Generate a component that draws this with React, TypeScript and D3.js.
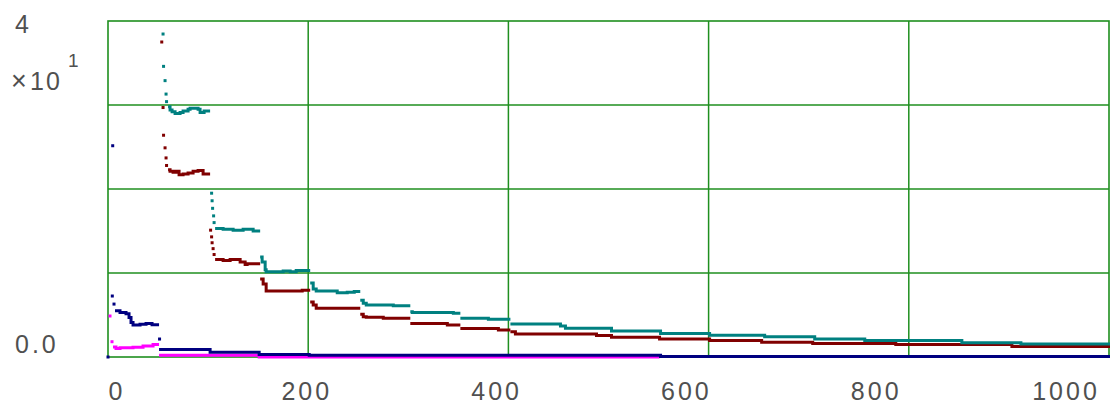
import React from "react";
import * as d3 from "d3";

// ---------- data ----------
const xTicks = [0, 200, 400, 600, 800, 1000];
const xGrid = [200, 400, 600, 800];
const yGrid = [10, 20, 30];

// isolated points [x, value]
const navyDots = [[0, 0], [4.7, 25.15], [4.3, 7.26], [6, 6.3], [51.5, 2.14]];
const magentaDots = [[2, 4.88], [4, 1.82]];
const tealDots = [
  [55, 38.45], [55.5, 34.6], [57, 32.9], [58, 31.3], [58.5, 30.4],
  [103.5, 19.5], [104, 18.6], [104.5, 17.7], [105.5, 16.8], [106, 16.0],
];
const redDots = [
  [53.7, 37.5], [55, 29.7], [55.5, 26.4], [57, 24.9], [58, 23.7], [58.5, 22.8],
  [102.5, 15.1], [103.5, 14.3], [104, 13.6], [105, 12.9], [106, 12.2],
];

// step runs: each run is a list of [x, value]; last point closes the run
const navyRuns = [
  [[7, 5.5], [12, 5.3], [18, 5.15], [21, 4.7], [23, 4.1], [25, 3.8], [32, 3.9], [38, 4.0], [44, 3.85], [51, 3.85]],
  [[51, 0.9], [102, 0.56], [151, 0.3], [201, 0.2], [552, 0.06], [1001, 0.06]],
];
const magentaRuns = [
  [[5, 1.2], [8, 1.0], [12, 1.1], [25, 1.15], [35, 1.3], [45, 1.5], [51, 1.5]],
  [[51, 0.2], [151, 0.0], [551, 0.0]],
];
const tealRuns = [
  [[60, 29.8], [62, 29.4], [64, 29.2], [67, 29.0], [72, 29.1], [75, 29.3], [80, 29.5], [82, 29.6], [90, 29.5], [92, 29.1], [96, 29.3], [102, 29.3]],
  [[107, 15.3], [115, 15.2], [125, 15.1], [135, 15.2], [145, 15.0], [152, 15.0]],
  [[152, 11.9], [154, 11.3], [157, 10.4], [158, 10.15], [175, 10.25], [182, 10.15], [188, 10.3], [202, 10.3]],
  [[202, 8.8], [205, 8.1], [208, 7.85], [225, 7.85], [229, 7.65], [239, 7.7], [246, 7.8], [252, 7.8]],
  [[252, 6.75], [255, 6.4], [258, 6.2], [285, 6.1], [302, 6.1]],
  [[302, 5.4], [304, 5.3], [345, 5.2], [352, 5.2]],
  [[352, 4.6], [380, 4.5], [402, 4.5]],
  [[402, 3.93], [452, 3.7], [457, 3.42], [503, 3.1], [552, 2.8], [601, 2.6], [656, 2.4], [706, 2.15], [756, 1.95], [853, 1.7], [912, 1.55], [1001, 1.55]],
];
const redRuns = [
  [[60, 22.3], [62, 22.1], [65, 22.0], [68, 22.1], [71, 21.7], [75, 21.8], [80, 21.9], [85, 22.1], [90, 22.2], [95, 21.8], [102, 21.8]],
  [[107, 11.6], [115, 11.5], [122, 11.6], [132, 11.3], [137, 11.0], [139, 11.1], [152, 11.1]],
  [[152, 9.3], [155, 8.7], [158, 7.85], [192, 7.85], [194, 7.95], [202, 7.95]],
  [[202, 6.55], [205, 6.2], [208, 5.8], [252, 5.8]],
  [[252, 5.1], [255, 4.8], [258, 4.73], [275, 4.6], [302, 4.6]],
  [[302, 4.0], [339, 3.8], [352, 3.8]],
  [[352, 3.4], [390, 3.2], [402, 3.2]],
  [[402, 3.0], [407, 2.74], [488, 2.55], [503, 2.35], [551, 2.15], [601, 1.95], [653, 1.75], [704, 1.6], [787, 1.5], [903, 1.25], [1001, 1.25]],
];

const series = [
  { name: "magenta", color: "#ff00ff", runs: magentaRuns, dots: magentaDots },
  { name: "red", color: "#800000", runs: redRuns, dots: redDots },
  { name: "teal", color: "#008080", runs: tealRuns, dots: tealDots },
  { name: "navy", color: "#000080", runs: navyRuns, dots: navyDots },
];

// ---------- layout ----------
const W = 1112;
const H = 408;
const left = 108;
const right = 1109;
const top = 21;
const bottom = 357;

export default function App() {
  const x = d3.scaleLinear().domain([0, 1000]).range([left, right]);
  const y = d3.scaleLinear().domain([0, 40]).range([bottom, top]);
  const xLab = d3.scaleLinear().domain([0, 1000]).range([117, 1066]);
  const line = d3
    .line<number[]>()
    .x((d) => x(d[0]))
    .y((d) => y(d[1]))
    .curve(d3.curveStepAfter);

  const green = "#1f8f1f";
  const textStyle: React.CSSProperties = {
    fontFamily: "'Liberation Sans', Arial, sans-serif",
    fill: "#505050",
  };

  return (
    <svg
      width={W}
      height={H}
      style={{ position: "absolute", left: 0, top: 0, background: "#fff" }}
    >
      <rect x={0} y={0} width={W} height={H} fill="#fff" />
      {xGrid.map((v) => (
        <line key={"gx" + v} x1={x(v)} x2={x(v)} y1={top} y2={bottom} stroke={green} strokeWidth={1.5} />
      ))}
      {yGrid.map((v) => (
        <line key={"gy" + v} x1={left} x2={right} y1={y(v)} y2={y(v)} stroke={green} strokeWidth={1.5} />
      ))}
      <rect x={left} y={top} width={right - left} height={bottom - top} fill="none" stroke={green} strokeWidth={1.6} />

      {series.map((s) => (
        <g key={s.name}>
          {s.runs.map((r, i) => (
            <path key={i} d={line(r as number[][]) || ""} fill="none" stroke={s.color} strokeWidth={3} />
          ))}
          {s.dots.map((d, i) => (
            <rect key={"d" + i} x={x(d[0]) - 1.5} y={y(d[1]) - 1.5} width={3} height={3} fill={s.color} />
          ))}
        </g>
      ))}

      {xTicks.map((v) => (
        <text key={"xt" + v} x={xLab(v)} y={400} textAnchor="middle" fontSize={25} letterSpacing={3} style={textStyle}>
          {v}
        </text>
      ))}
      <text x={15} y={y(40) + 12} fontSize={25} style={textStyle}>4</text>
      <text x={11} y={90} fontSize={27} style={textStyle}>×</text>
      <text x={30} y={90} fontSize={25} letterSpacing={2} style={textStyle}>10</text>
      <text x={68} y={67} fontSize={19} style={textStyle}>1</text>
      <text x={15} y={y(0) - 4} fontSize={25} letterSpacing={3} style={textStyle}>0.0</text>
    </svg>
  );
}
